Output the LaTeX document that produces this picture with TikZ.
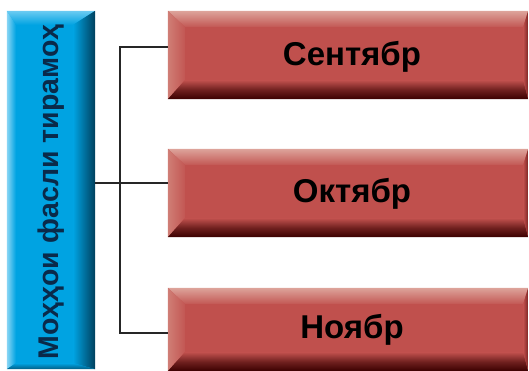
\documentclass[tikz,border=0pt]{standalone}
\usepackage{fontspec}
\setmainfont{Liberation Sans}
\usetikzlibrary{calc}
\definecolor{rmain}{HTML}{C0504D}
\definecolor{rlight}{HTML}{DDA49B}
\definecolor{rleft}{HTML}{D07E76}
\definecolor{rdark}{HTML}{3A0000}
\definecolor{rright}{HTML}{7A2422}
\definecolor{bmain}{HTML}{00A3E2}
\definecolor{blight}{HTML}{6CCBF2}
\definecolor{bleft}{HTML}{8AD6F5}
\definecolor{bdark}{HTML}{003F5C}
\definecolor{btext}{HTML}{0A2A4A}
\definecolor{conncol}{HTML}{262626}
\tikzset{
  conn/.style={draw=conncol, line width=2pt},
  redbox/.style={rectangle, inner sep=0pt, fill=rmain, minimum width=360pt, minimum height=88pt},
  bluebox/.style={rectangle, inner sep=0pt, fill=bmain, minimum width=88pt, minimum height=358pt},
  lbl/.style={font=\bfseries\fontsize{33pt}{36pt}\selectfont, text=black},
  blbl/.style={font=\bfseries\fontsize{28.5pt}{31pt}\selectfont, text=btext}
}
% red bevel: #1 node name
\newcommand\redbevel[1]{%
  \path[top color=rlight, bottom color=rmain!90!rlight]
    (#1.north west) -- (#1.north east) -- ($(#1.north east)+(-5,16)$) -- ($(#1.north west)+(17,16)$) -- cycle;
  \path[left color=rleft, right color=rmain!85!rleft]
    (#1.north west) -- ($(#1.north west)+(17,16)$) -- ($(#1.south west)+(17,-19)$) -- (#1.south west) -- cycle;
  \path[top color=rmain, bottom color=rdark, middle color=rmain!40!rdark]
    (#1.south west) -- ($(#1.south west)+(17,-19)$) -- ($(#1.south east)+(-5,-19)$) -- (#1.south east) -- cycle;
  \path[left color=rmain, right color=rright]
    (#1.north east) -- ($(#1.north east)+(-5,16)$) -- ($(#1.south east)+(-5,-19)$) -- (#1.south east) -- cycle;
}
\begin{document}
\begin{tikzpicture}[x=1pt,y=-1pt]
\useasboundingbox (0,0) rectangle (529,371);
% blue box
\node[bluebox] (blue) at (51,190) {};
\path[top color=blight, bottom color=bmain]
  (blue.north west) -- (blue.north east) -- ($(blue.north east)+(-22,14)$) -- ($(blue.north west)+(9,14)$) -- cycle;
\path[left color=bleft, right color=bmain]
  (blue.north west) -- ($(blue.north west)+(9,14)$) -- ($(blue.south west)+(9,-6)$) -- (blue.south west) -- cycle;
\path[left color=bmain, right color=bdark]
  (blue.north east) -- ($(blue.north east)+(-22,14)$) -- ($(blue.south east)+(-22,-6)$) -- (blue.south east) -- cycle;
\path[top color=bmain, bottom color=bdark!70!bmain]
  (blue.south west) -- ($(blue.south west)+(9,-6)$) -- ($(blue.south east)+(-22,-6)$) -- (blue.south east) -- cycle;
\node[blbl, rotate=90] (bluet) at (51,192) {Моҳҳои фасли тирамоҳ};
% red boxes
\node[redbox] (r1) at (348,55) {};
\node[redbox] (r2) at (348,193) {};
\node[redbox, minimum height=83pt] (r3) at (348,329.5) {};
\redbevel{r1}
\redbevel{r2}
\redbevel{r3}
\node[lbl] (t1) at (352,57) {Сентябр};
\node[lbl] (t2) at (352,194) {Октябр};
\node[lbl] (t3) at (352,330) {Ноябр};
% connectors
\coordinate (hub) at (120,183);
\coordinate (top) at (120,47);
\coordinate (bot) at (120,333);
\draw[conn] (blue.east |- hub) -- (hub) -- (r2.west |- hub);
\draw[conn] (r1.west |- top) -- (top) -- (bot) -- (r3.west |- bot);
\end{tikzpicture}
\end{document}
